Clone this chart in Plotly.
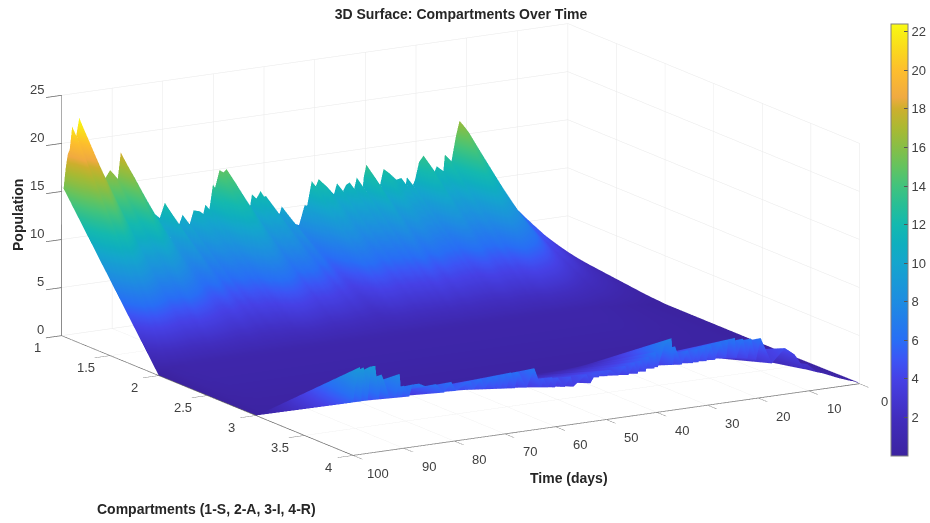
import numpy as np
import plotly.graph_objects as go

compartments = [1, 2, 3, 4]
time_days = [
    100, 99.6, 99.2, 98.8, 98.6, 98.4, 97.9, 97.1, 96.5, 95.6,
    94.9, 94.4, 94, 92.8, 91.5, 90.8, 90.4, 89.9, 88.9, 88.3,
    87, 85.6, 83.6, 82, 80.6, 79.6, 76.8, 76.1, 74.7, 73.9,
    72.7, 72, 71.6, 70.8, 70.1, 69.7, 68.8, 68, 67.4, 65.7,
    64.2, 62.8, 62.4, 61.5, 60.7, 60.1, 59.6, 58.2, 57, 56.5,
    53.9, 53.1, 52, 51.5, 50.6, 49.8, 49.2, 47.6, 46.2, 45.6,
    44.4, 43.8, 43.1, 42.2, 41.7, 40.5, 40.3, 39.8, 38.5, 37.1,
    36.8, 36.4, 35.1, 33.9, 32.9, 32, 31.8, 30.6, 30.2, 29.4,
    28.5, 27.4, 26.3, 25.9, 24.6, 24.3, 23, 22.1, 21.4, 20.4,
    19.5, 17.3, 14.7, 12.8, 10.8, 10.3, 8.3, 6.6, 6.3, 4.2,
    2.2, 0.4, 0,
]
S_values = [
    15.7, 15.3, 17.3, 18.7, 19, 19.2, 21.6, 20.6, 22.4, 21.2,
    20.3, 19.6, 19, 17.5, 15.6, 16.2, 16.5, 16.2, 15.5, 18.2,
    16.8, 15.4, 13.2, 11.5, 10.8, 12.3, 9.8, 10.8, 9.7, 11.1,
    10.9, 10.6, 11.5, 11, 13.5, 13.1, 14.9, 14.6, 14.9, 13.4,
    12, 10.6, 11.9, 11.4, 12.1, 11.5, 11.5, 10.4, 9.4, 10.2,
    8.2, 8, 10, 9.9, 12.4, 11.8, 12.5, 11.6, 10.7, 11.8,
    10.9, 11.5, 11.7, 11, 12.1, 11.1, 12.1, 13.3, 12.2, 11,
    11.7, 12.6, 12, 11.3, 11.4, 10.7, 11.4, 10.5, 11, 12.8,
    13.4, 12.5, 11.6, 12.1, 11.5, 13.2, 12.4, 15, 16.5, 15.8,
    15.1, 13, 10.1, 8.2, 6.5, 6.6, 5.4, 4.3, 4.2, 3.1,
    2.1, 1.25, 0.8,
]
A_values = [
    0, 0.1, 0.2, 0.3, 0.4, 0.5, 0.6, 0.6, 0.7, 0.7,
    0.8, 0.8, 0.8, 0.8, 0.8, 0.8, 0.8, 0.8, 0.8, 0.8,
    0.8, 0.8, 0.8, 0.8, 0.8, 0.8, 0.8, 0.8, 0.8, 0.8,
    0.8, 0.8, 0.8, 0.8, 0.8, 0.8, 0.8, 0.8, 0.8, 0.8,
    0.8, 0.8, 0.8, 0.8, 0.8, 0.8, 0.8, 0.8, 0.8, 0.8,
    0.8, 0.8, 0.8, 0.8, 0.8, 0.8, 0.8, 0.8, 0.8, 0.8,
    0.8, 0.8, 0.8, 0.8, 0.8, 0.8, 0.8, 0.8, 0.8, 0.8,
    0.8, 0.8, 0.8, 0.8, 0.8, 0.8, 0.8, 0.8, 0.8, 0.8,
    0.8, 0.8, 0.8, 0.8, 0.8, 0.8, 0.8, 0.8, 0.8, 0.8,
    0.8, 0.8, 0.7, 0.6, 0.5, 0.5, 0.4, 0.3, 0.3, 0.2,
    0.1, 0.05, 0,
]
I_values = [
    0, 0.05, 0.1, 0.15, 0.2, 0.2, 0.2, 0.2, 0.2, 0.2,
    0.2, 0.2, 0.2, 0.2, 0.2, 0.2, 0.2, 0.2, 0.2, 0.2,
    0.2, 0.2, 0.2, 0.2, 0.2, 0.2, 0.2, 0.2, 0.2, 0.2,
    0.2, 0.2, 0.2, 0.2, 0.2, 0.2, 0.2, 0.2, 0.2, 0.2,
    0.2, 0.2, 0.2, 0.2, 0.2, 0.2, 0.2, 0.2, 0.2, 0.2,
    0.2, 0.2, 0.2, 0.2, 0.2, 0.2, 0.2, 0.2, 0.2, 0.2,
    0.2, 0.2, 0.2, 0.2, 0.2, 0.2, 0.2, 0.2, 0.2, 0.2,
    0.2, 0.2, 0.2, 0.2, 0.2, 0.2, 0.2, 0.2, 0.2, 0.2,
    0.2, 0.2, 0.2, 0.2, 0.2, 0.2, 0.2, 0.2, 0.2, 0.2,
    0.2, 0.2, 0.2, 0.2, 0.2, 0.2, 0.2, 0.2, 0.2, 0.2,
    0.15, 0.1, 0,
]
R_values = [
    5.5, 7, 8, 9, 9.1, 5.5, 9, 5.5, 9, 9,
    5.5, 8, 7.5, 5.5, 5.4, 7.8, 5.4, 6.5, 5.3, 6.5,
    6.5, 6.1, 6.2, 5.2, 6.2, 5.2, 6, 5.1, 6.1, 5,
    6.1, 4.9, 6.2, 4.8, 6.2, 4.7, 6.3, 4.6, 6.3, 4.5,
    6.4, 4.3, 5.2, 4.2, 5.2, 4.1, 5.1, 4, 5, 3.9,
    5, 4, 5, 4.5, 5.1, 4.5, 5.1, 4.4, 5.3, 4.3,
    5.5, 4.3, 5.6, 4.4, 5.9, 4.6, 6.3, 4.7, 6.9, 7.5,
    4.7, 6.6, 4.6, 6, 4.6, 6, 4.6, 6.2, 4.6, 6.3,
    4.6, 6.4, 4.6, 6.5, 6.6, 4.5, 6.4, 4.3, 6.3, 4,
    6.2, 3.4, 4.8, 4, 2.3, 2.8, 1.8, 1.5, 1.4, 0.9,
    0.5, 0.2, 0,
]
comp_ticks = [1, 1.5, 2, 2.5, 3, 3.5, 4]
time_ticks = [0, 10, 20, 30, 40, 50, 60, 70, 80, 90, 100]
pop_ticks = [0, 5, 10, 15, 20, 25]
cbar_ticks = [2, 4, 6, 8, 10, 12, 14, 16, 18, 20, 22]

ZMAX = 22.4
color_stops = [
    (0, "rgb(60,35,160)"), (2, "rgb(65,45,190)"), (4, "rgb(70,65,230)"), (5, "rgb(60,85,245)"),
    (6, "rgb(40,110,245)"), (8, "rgb(30,140,225)"), (10, "rgb(20,165,205)"), (11, "rgb(15,175,190)"),
    (12, "rgb(20,185,175)"), (13, "rgb(40,190,150)"), (14, "rgb(65,195,125)"), (15, "rgb(100,195,95)"),
    (16, "rgb(135,190,70)"), (17, "rgb(170,185,50)"), (18, "rgb(205,175,45)"), (18.6, "rgb(240,170,65)"),
    (20, "rgb(253,190,45)"), (21, "rgb(250,215,30)"), (22, "rgb(248,240,20)"), (22.4, "rgb(250,250,20)"),
]
parula = [[v / ZMAX, c] for v, c in color_stops]

z = np.column_stack([S_values, A_values, I_values, R_values])
FONT = "Liberation Sans, Arial, sans-serif"
TXT = "#404040"
DARK = "#262626"
GRID = "#e8e8e8"
LINE = "#666666"


def axis(ticks, rng):
    return dict(range=rng, tickvals=ticks, showticklabels=False, title=dict(text=""),
                showbackground=False, showgrid=True, gridcolor=GRID, gridwidth=1,
                showline=True, linecolor=LINE, linewidth=1.5, ticks="outside", ticklen=18, tickcolor=LINE,
                tickwidth=1.5, zeroline=False, showspikes=False)


def tick_label(x, y, zv, text, xshift, yshift, xanchor="center"):
    return dict(x=x, y=y, z=zv, text=text, showarrow=False, xanchor=xanchor, yanchor="middle",
                xshift=xshift, yshift=yshift, font=dict(family=FONT, size=13, color=TXT))


scene_labels = (
    [tick_label(c, 100, 0, str(c), -24, -12) for c in comp_ticks]
    + [tick_label(4, t, 0, str(t), 25, -18) for t in time_ticks]
    + [tick_label(1, 100, p, str(p), -15, 6, "right") for p in pop_ticks]
)

fig = go.Figure(go.Surface(
    x=compartments, y=time_days, z=z, colorscale=parula, cmin=0, cmax=ZMAX,
    lighting=dict(ambient=1, diffuse=0, specular=0, fresnel=0, roughness=1),
    hoverinfo="skip",
    colorbar=dict(x=891 / 930, xanchor="left", xpad=0, y=1 - 240 / 523, yanchor="middle", ypad=0,
                  len=432 / 523, lenmode="fraction", thickness=17, thicknessmode="pixels",
                  outlinecolor="#808080", outlinewidth=1, tickvals=cbar_ticks, ticks="inside", ticklen=4,
                  tickcolor="#555555", tickfont=dict(family=FONT, size=13, color=TXT)),
))
fig.update_layout(
    width=930, height=523, autosize=False, paper_bgcolor="white",
    margin=dict(l=0, r=0, t=0, b=0),
    font=dict(family=FONT),
    title=dict(text="<b>3D Surface: Compartments Over Time</b>", x=461 / 930, xanchor="center",
               y=1 - 14 / 523, yanchor="middle", font=dict(family=FONT, size=14, color=DARK)),
    scene=dict(
        domain=dict(x=[0, 0.991], y=[0.084, 1]),
        xaxis=axis(comp_ticks, [1, 4]),
        yaxis=axis(time_ticks, [100, 0]),
        zaxis=axis(pop_ticks, [0, 25]),
        aspectmode="manual", aspectratio=dict(x=2.404, y=2.452, z=1.034),
        camera=dict(projection=dict(type="orthographic"),
                    eye=dict(x=3.344, y=-1.964, z=0.964),
                    center=dict(x=0, y=0, z=0), up=dict(x=0, y=0, z=1)),
        annotations=scene_labels,
    ),
    annotations=[
        dict(text="<b>Population</b>", xref="paper", yref="paper", x=18 / 930, y=1 - 215 / 523, showarrow=False,
             xanchor="center", yanchor="middle", textangle=-90, font=dict(family=FONT, size=14, color=DARK)),
        dict(text="<b>Time (days)</b>", xref="paper", yref="paper", x=570 / 930, y=1 - 478 / 523, showarrow=False,
             xanchor="center", yanchor="middle", font=dict(family=FONT, size=14, color=DARK)),
        dict(text="<b>Compartments (1-S, 2-A, 3-I, 4-R)</b>", xref="paper", yref="paper", x=207 / 930,
             y=1 - 509 / 523, showarrow=False, xanchor="center", yanchor="middle",
             font=dict(family=FONT, size=14, color=DARK)),
    ],
)
fig.write_html("out.html", post_script="document.body.style.margin='0';", config=dict(displayModeBar=False))
